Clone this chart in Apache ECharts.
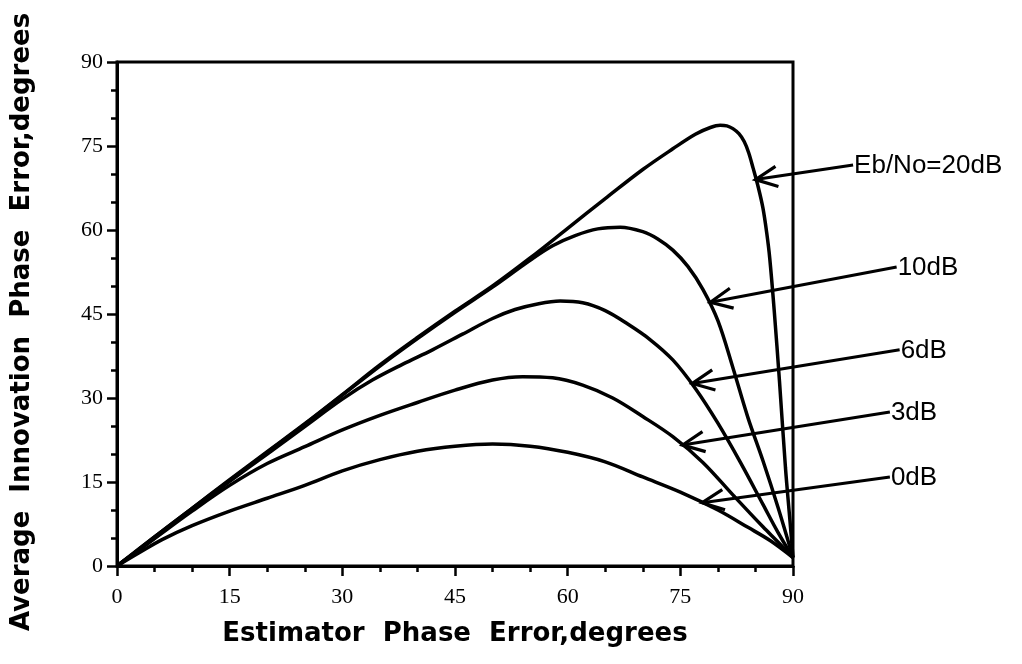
<!DOCTYPE html>
<html>
<head>
<meta charset="utf-8">
<script src="https://cdn.jsdelivr.net/npm/echarts@6/dist/echarts.min.js"></script>
<style>
html,body{margin:0;padding:0;background:#fff;}
#chart{width:1022px;height:664px;}
</style>
</head>
<body>
<div id="chart"></div>
<script>
// ---- data (degrees) ----
const xTicks = [0, 15, 30, 45, 60, 75, 90];
const yTicks = [0, 15, 30, 45, 60, 75, 90];

const x20 = [0, 2, 5, 10, 15, 20, 25, 30, 35, 40, 45, 50, 55, 60, 65, 70, 74, 77, 79, 80.3, 81.2, 82, 82.8, 83.5, 84.1, 84.7, 85.4, 86, 86.5, 86.9, 87.5, 88.2, 89, 89.6, 90];
const y20 = [0, 2, 5.2, 10.3, 15.4, 20.4, 25.4, 30.6, 35.9, 40.8, 45.5, 50, 55, 60.3, 65.6, 70.8, 74.5, 77.1, 78.3, 78.7, 78.6, 78.1, 77.2, 75.8, 73.8, 71, 67.5, 63.9, 59.5, 55, 45.6, 33, 17.5, 8, 1.5];

const x10 = [0, 5, 10, 15, 20, 25, 30, 35, 40, 45, 50, 55, 58, 61, 64, 67, 70, 72, 74, 76, 78, 80, 82, 84, 86, 88, 90];
const y10 = [0, 5.2, 10.3, 15.3, 20.3, 25.3, 30.5, 35.7, 40.6, 45.3, 49.8, 54.6, 57.2, 59, 60.2, 60.5, 59.7, 58.4, 56.4, 53.5, 49.4, 43.8, 35.4, 26.5, 18.8, 10.5, 1.5];

const x6 = [0, 5, 10, 15, 20, 25, 30, 34, 38, 42, 46, 50, 53, 56, 59, 62, 65, 68, 71, 74, 77, 80, 83, 86, 88, 90];
const y6 = [0, 5, 10.1, 15.1, 20, 24.9, 29.8, 33.2, 36, 38.6, 41.4, 44.2, 45.8, 46.8, 47.3, 47, 45.6, 43.2, 40.4, 36.8, 31.7, 25.5, 18.5, 11, 6, 1.5];

const x3 = [0, 5, 10, 15, 20, 25, 30, 35, 40, 45, 50, 54, 58, 62, 66, 70, 74, 78, 82, 86, 88, 90];
const y3 = [0, 4.9, 9.8, 14.4, 18.3, 21.3, 24.3, 26.9, 29.2, 31.4, 33.2, 33.8, 33.6, 32.3, 30, 26.7, 23.1, 18.5, 12.7, 7, 4.3, 1.5];

const x0 = [0, 3, 6, 10, 15, 20, 25, 30, 35, 40, 45, 50, 55, 60, 65, 70, 75, 80, 84, 87, 90];
const y0 = [0, 2.4, 4.7, 7.2, 9.8, 12.1, 14.4, 17, 19, 20.5, 21.4, 21.8, 21.4, 20.3, 18.6, 15.9, 13.2, 10, 6.9, 4.5, 1.5];

// annotation labels: text, label anchor (x,y), arrow tip on curve (x,y)
const annNames = ['Eb/No=20dB', '10dB', '6dB', '3dB', '0dB'];
const annLabelX = [98.0, 103.8, 104.2, 102.9, 102.9];
const annLabelY = [71.6, 53.4, 38.6, 27.5, 15.9];
const annTipX = [85.0, 79.0, 76.6, 75.3, 77.9];
const annTipY = [69.0, 47.1, 32.6, 21.6, 11.3];

const xTitle = 'Estimator  Phase  Error,degrees';
const yTitle = 'Average  Innovation  Phase  Error,degrees';

// ---- build ----
const zip = (a, b) => a.map((v, i) => [v, b[i]]);
const curves = [
  ['20dB', x20, y20], ['10dB', x10, y10], ['6dB', x6, y6], ['3dB', x3, y3], ['0dB', x0, y0]
];

const chart = echarts.init(document.getElementById('chart'), null, {renderer: 'canvas'});

const series = curves.map(c => ({
  name: c[0],
  type: 'line',
  data: zip(c[1], c[2]),
  showSymbol: false,
  smooth: 0.35,
  lineStyle: {color: '#000', width: 3.5},
  silent: true,
  animation: false,
  z: 3
}));

const ARM = 24, HALF = 25 * Math.PI / 180;
series.push({
  name: 'annotations',
  type: 'custom',
  silent: true,
  animation: false,
  clip: false,
  z: 4,
  encode: {x: [0, 2], y: [1, 3]},
  data: annNames.map((n, i) => ({name: n, value: [annLabelX[i], annLabelY[i], annTipX[i], annTipY[i]]})),
  renderItem: function (params, api) {
    const p1 = api.coord([api.value(0), api.value(1)]);
    const p2 = api.coord([api.value(2), api.value(3)]);
    const dx = p1[0] - p2[0], dy = p1[1] - p2[1];
    const L = Math.sqrt(dx * dx + dy * dy);
    const ux = dx / L, uy = dy / L;
    const rot = a => [p2[0] + ARM * (ux * Math.cos(a) - uy * Math.sin(a)),
                      p2[1] + ARM * (ux * Math.sin(a) + uy * Math.cos(a))];
    const a1 = rot(HALF), a2 = rot(-HALF);
    const name = annNames[params.dataIndex];
    return {
      type: 'group',
      children: [
        {type: 'line', shape: {x1: p1[0], y1: p1[1], x2: p2[0], y2: p2[1]},
         style: {stroke: '#000', lineWidth: 3}},
        {type: 'polyline', shape: {points: [a1, p2, a2]},
         style: {stroke: '#000', lineWidth: 3.2, fill: null, lineJoin: 'miter'}},
        {type: 'text', x: p1[0] + 1, y: p1[1] + 1,
         style: {text: name, fill: '#000', fontSize: 26, fontFamily: 'Liberation Sans, Arial, sans-serif',
                 align: 'left', verticalAlign: 'middle'}}
      ]
    };
  }
});

const tickFont = {color: '#000', fontSize: 22, fontFamily: 'Liberation Serif, Times New Roman, serif'};

chart.setOption({
  backgroundColor: '#fff',
  animation: false,
  grid: {
    left: 117, right: 229, top: 62, bottom: 98,
    show: true, borderColor: '#000', borderWidth: 3, backgroundColor: 'transparent'
  },
  xAxis: {
    type: 'value', min: 0, max: 90, interval: 15,
    name: xTitle, nameLocation: 'middle', nameGap: 55,
    nameTextStyle: {color: '#000', fontSize: 26, fontWeight: 'bold', fontFamily: 'DejaVu Sans, sans-serif'},
    axisLine: {show: true, lineStyle: {color: '#000', width: 3}},
    axisTick: {show: true, length: 10, inside: false, lineStyle: {color: '#000', width: 2.5}},
    minorTick: {show: true, splitNumber: 3, length: 6, lineStyle: {color: '#000', width: 2.5}},
    axisLabel: Object.assign({margin: 20, formatter: v => xTicks.includes(v) ? String(v) : ''}, tickFont),
    splitLine: {show: false}
  },
  yAxis: {
    type: 'value', min: 0, max: 90, interval: 15,
    name: yTitle, nameLocation: 'middle', nameGap: 82,
    nameTextStyle: {color: '#000', fontSize: 26, fontWeight: 'bold', fontFamily: 'DejaVu Sans, sans-serif',
                    padding: [0, 16, 0, 0]},
    axisLine: {show: true, lineStyle: {color: '#000', width: 3}},
    axisTick: {show: true, length: 10, inside: false, lineStyle: {color: '#000', width: 2.5}},
    minorTick: {show: true, splitNumber: 3, length: 6, lineStyle: {color: '#000', width: 2.5}},
    axisLabel: Object.assign({margin: 14, formatter: v => yTicks.includes(v) ? String(v) : ''}, tickFont),
    splitLine: {show: false}
  },
  series: series
});
</script>
</body>
</html>
